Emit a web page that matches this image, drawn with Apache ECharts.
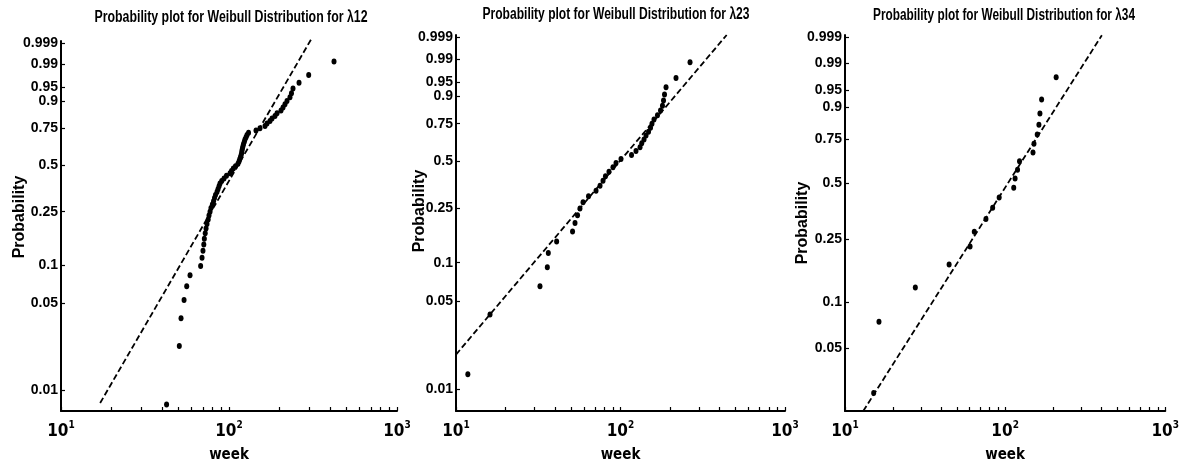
<!DOCTYPE html>
<html>
<head>
<meta charset="utf-8">
<script src="https://cdn.jsdelivr.net/npm/echarts@6/dist/echarts.min.js"></script>
<style>
  html, body { margin: 0; padding: 0; background: #fff; }
  #chart { width: 1182px; height: 468px; }
</style>
</head>
<body>
<div id="chart"></div>
<script>
// Weibull probability plots of inter-event times (weeks)

const panelTitles = [
  'Probability plot for Weibull Distribution for \u03bb12',
  'Probability plot for Weibull Distribution for \u03bb23',
  'Probability plot for Weibull Distribution for \u03bb34'
];

// λ12: sorted weeks and their plotting probabilities
const week12 = [42.5, 50.6, 51.8, 54.0, 56.0, 58.6, 67.8, 69.1, 70.0, 70.8,
  71.3, 72.2, 73.0, 74.0, 75.2, 76.0, 77.1, 78.1, 79.6, 80.9,
  82.0, 83.1, 84.8, 86.0, 87.2, 88.4, 90.5, 93.4, 96.6, 101.4,
  103.5, 106.1, 109.3, 113.1, 114.7, 115.8, 117.1, 118.2, 119.0, 119.5,
  120.3, 121.2, 122.0, 123.4, 124.5, 126.3, 128.0, 130.7, 144.8, 152.9,
  163.8, 168.4, 175.4, 180.3, 187.8, 193.1, 204.0, 209.7, 215.4, 221.4,
  230.7, 235.5, 240.4, 261.1, 298.1, 421.7];
const prob12 = [0.0076, 0.0227, 0.0379, 0.0530, 0.0682, 0.0833, 0.0985, 0.1136, 0.1288, 0.1439,
  0.1591, 0.1742, 0.1894, 0.2045, 0.2197, 0.2348, 0.2500, 0.2652, 0.2803, 0.2955,
  0.3106, 0.3258, 0.3409, 0.3561, 0.3712, 0.3864, 0.4015, 0.4167, 0.4318, 0.4470,
  0.4621, 0.4773, 0.4924, 0.5076, 0.5227, 0.5379, 0.5530, 0.5682, 0.5833, 0.5985,
  0.6136, 0.6288, 0.6439, 0.6591, 0.6742, 0.6894, 0.7045, 0.7197, 0.7348, 0.7500,
  0.7652, 0.7803, 0.7955, 0.8106, 0.8258, 0.8409, 0.8561, 0.8712, 0.8864, 0.9015,
  0.9167, 0.9318, 0.9470, 0.9621, 0.9773, 0.9924];

// λ23
const week23 = [11.8, 16.1, 32.4, 35.9, 36.4, 40.9, 51.1, 52.9, 54.8, 56.7,
  59.2, 63.9, 71.0, 75.1, 78.3, 81.0, 85.1, 90.0, 93.9, 100.7,
  116.7, 124.2, 131.4, 134.6, 139.0, 142.9, 148.0, 152.2, 155.4, 159.8,
  167.8, 175.1, 180.0, 182.6, 185.2, 189.1, 217.5, 264.6];
const prob23 = [0.0132, 0.0395, 0.0658, 0.0921, 0.1184, 0.1447, 0.1711, 0.1974, 0.2237, 0.2500,
  0.2763, 0.3026, 0.3289, 0.3553, 0.3816, 0.4079, 0.4342, 0.4605, 0.4868, 0.5132,
  0.5395, 0.5658, 0.5921, 0.6184, 0.6447, 0.6711, 0.6974, 0.7237, 0.7500, 0.7763,
  0.8026, 0.8289, 0.8553, 0.8816, 0.9079, 0.9342, 0.9605, 0.9868];

// λ34
const week34 = [15.1, 16.3, 27.5, 44.7, 60.4, 64.2, 75.9, 83.6, 91.8, 113.2,
  115.4, 119.6, 123.0, 149.3, 151.4, 158.7, 162.6, 165.0, 169.0, 208.3];
const prob34 = [0.025, 0.075, 0.125, 0.175, 0.225, 0.275, 0.325, 0.375, 0.425, 0.475,
  0.525, 0.575, 0.625, 0.675, 0.725, 0.775, 0.825, 0.875, 0.925, 0.975];

// fitted Weibull reference lines: end points (week, probability)
const refWeek12 = [17.1, 310.7];
const refProb12 = [0.0078, 0.99947];
const refWeek23 = [10.0, 442.0];
const refProb23 = [0.0190, 0.99923];
const refWeek34 = [13.0, 402.0];
const refProb34 = [0.01887, 0.99921];

// axis ticks
const yTickProbs = [0.01, 0.05, 0.1, 0.25, 0.5, 0.75, 0.9, 0.95, 0.99, 0.999];
const yTickLabels = ['0.01', '0.05', '0.1', '0.25', '0.5', '0.75', '0.9', '0.95', '0.99', '0.999'];
const xTickExponents = [1, 2, 3];
const xMinorWeeks = [10, 20, 30, 40, 50, 60, 70, 80, 90,
  100, 200, 300, 400, 500, 600, 700, 800, 900, 1000];

// probability-paper scales: log10 for weeks, log(-log(1-p)) for probability
const toX = w => Math.log10(w);
const toY = p => Math.log(-Math.log(1 - p));

const panels = [
  { weeks: week12, probs: prob12, refW: refWeek12, refP: refProb12 },
  { weeks: week23, probs: prob23, refW: refWeek23, refP: refProb23 },
  { weeks: week34, probs: prob34, refW: refWeek34, refP: refProb34 }
];

// layout of the three plotting areas
const gridBoxes = [
  { left: 61, top: 41, width: 336, height: 370 },
  { left: 456, top: 35, width: 329, height: 376 },
  { left: 845, top: 35, width: 322, height: 376 }
];
const yLimits = [[-5, 1.97], [-5, 1.97], [-3.96, 1.97]];
const yNameGaps = [33, 28, 34];
const yNamePads = [[0, 0, 0, 18], [0, 0, 0, 24], [0, 0, 0, 0]];
const titleCenters = [[231, 18], [616, 15], [1004, 16]];
const titleWidths = [273, 267, 262];

const NARROW = '"Liberation Sans Narrow", "DejaVu Sans Condensed", sans-serif';
const SANS = '"Liberation Sans", Arial, sans-serif';
const TITLE_FONT = 'bold 16px "Liberation Sans", Arial, sans-serif';

// horizontal squeeze for the condensed title lettering
const measureCtx = document.createElement('canvas').getContext('2d');
measureCtx.font = TITLE_FONT;
const titleScales = panelTitles.map((t, i) => titleWidths[i] / measureCtx.measureText(t).width);

const yTickValues = yTickProbs.map(toY);
function yLabel(v) {
  let best = 0;
  yTickValues.forEach((t, i) => {
    if (Math.abs(t - v) < Math.abs(yTickValues[best] - v)) best = i;
  });
  return yTickLabels[best];
}

const chart = echarts.init(document.getElementById('chart'), null, { renderer: 'canvas' });

const option = {
  animation: false,
  backgroundColor: '#ffffff',
  grid: gridBoxes.map(g => Object.assign({ containLabel: false, show: false }, g)),
  xAxis: gridBoxes.map((g, i) => ({
    type: 'value',
    gridIndex: i,
    min: 1,
    max: 3,
    name: 'week',
    nameLocation: 'middle',
    nameGap: 37,
    nameMoveOverlap: false,
    nameTextStyle: { fontFamily: NARROW, fontWeight: 'bold', fontSize: 15, color: '#000' },
    axisLine: { onZero: false, lineStyle: { color: '#000', width: 2 } },
    axisTick: {
      inside: true, length: 4, customValues: xMinorWeeks.map(toX),
      lineStyle: { color: '#000', width: 1.2 }
    },
    splitLine: { show: false },
    axisLabel: {
      customValues: xTickExponents,
      margin: 9,
      formatter: v => '{b|10}{s|' + Math.round(v) + '}',
      rich: {
        b: { fontFamily: NARROW, fontWeight: 'bold', fontSize: 17, lineHeight: 24, color: '#000' },
        s: { fontFamily: NARROW, fontWeight: 'bold', fontSize: 10, lineHeight: 10, verticalAlign: 'top', color: '#000' }
      }
    }
  })),
  yAxis: gridBoxes.map((g, i) => ({
    type: 'value',
    gridIndex: i,
    min: yLimits[i][0],
    max: yLimits[i][1],
    name: 'Probability',
    nameLocation: 'middle',
    nameRotate: 90,
    nameGap: yNameGaps[i],
    nameMoveOverlap: false,
    nameTextStyle: { fontFamily: SANS, fontWeight: 'bold', fontSize: 16, color: '#000', padding: yNamePads[i] },
    axisLine: { onZero: false, lineStyle: { color: '#000', width: 2 } },
    axisTick: {
      inside: true, length: 4, customValues: yTickValues,
      lineStyle: { color: '#000', width: 1.2 }
    },
    splitLine: { show: false },
    axisLabel: {
      customValues: yTickValues,
      margin: 3,
      formatter: v => yLabel(v),
      fontFamily: SANS, fontWeight: 'bold', fontSize: 14, color: '#000'
    }
  })),
  graphic: panelTitles.map((t, i) => ({
    type: 'text',
    x: titleCenters[i][0],
    y: titleCenters[i][1],
    scaleX: titleScales[i],
    style: {
      text: t,
      fill: '#000',
      font: TITLE_FONT,
      textAlign: 'center',
      textVerticalAlign: 'middle'
    }
  })),
  series: []
};

panels.forEach((p, i) => {
  option.series.push({
    type: 'line',
    xAxisIndex: i,
    yAxisIndex: i,
    data: p.refW.map((w, k) => [toX(w), toY(p.refP[k])]),
    symbol: 'none',
    clip: false,
    silent: true,
    lineStyle: { color: '#000', width: 1.8, type: [6, 3], opacity: 1 },
    z: 2
  });
  option.series.push({
    type: 'scatter',
    xAxisIndex: i,
    yAxisIndex: i,
    data: p.weeks.map((w, k) => [toX(w), toY(p.probs[k])]),
    symbol: 'circle',
    symbolSize: [5, 6],
    itemStyle: { color: '#000', opacity: 1 },
    silent: true,
    z: 3
  });
});

chart.setOption(option);
</script>
</body>
</html>
